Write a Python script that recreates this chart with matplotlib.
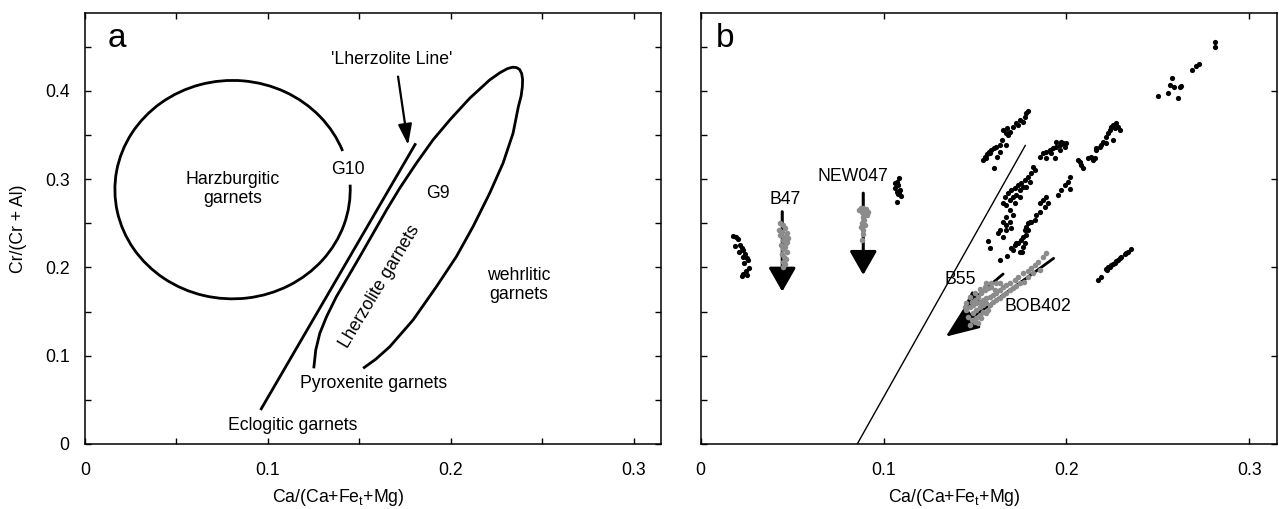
import matplotlib
matplotlib.use("Agg")
import matplotlib.pyplot as plt
from matplotlib.patches import Arc

plt.rcParams['font.family'] = ['Liberation Sans', 'DejaVu Sans']
plt.rcParams['mathtext.fontset'] = 'custom'
plt.rcParams['mathtext.rm'] = 'Liberation Sans'
plt.rcParams['mathtext.it'] = 'Liberation Sans'

# ---------------- axes / ticks ----------------
XLIM = (0, 0.315)
YLIM = (0, 0.488)
x_major = [0, 0.1, 0.2, 0.3]
x_major_labels = ["0", "0.1", "0.2", "0.3"]
x_minor = [0.05, 0.15, 0.25]
y_major = [0, 0.1, 0.2, 0.3, 0.4]
y_major_labels = ["0", "0.1", "0.2", "0.3", "0.4"]
y_minor = [0.05, 0.15, 0.25, 0.35, 0.45]
xlabel_text = "Ca/(Ca+Fe$_\\mathregular{t}$+Mg)"
ylabel_text = "Cr/(Cr + Al)"

# ---------------- panel a data ----------------
harz_center = (0.0807, 0.288)
harz_size = (0.1287, 0.2473)
harz_gap_deg = (5, 36)   # geometric angles of the gap ends (lower, upper)

lherz_line_x = [0.0960, 0.1809]
lherz_line_y = [0.0385, 0.3405]
lherz_arrow_start = (0.1712, 0.4160)
lherz_arrow_tip = (0.1767, 0.3386)

g9_x = [0.1251, 0.1262, 0.1284, 0.1321, 0.1375, 0.1439, 0.1503, 0.1576, 0.1649,
        0.1721, 0.1812, 0.1903, 0.1995, 0.2104, 0.2213, 0.2270, 0.2310, 0.2338,
        0.2360, 0.2377, 0.2388, 0.2393, 0.2392, 0.2385, 0.2370, 0.2341, 0.2286,
        0.2213, 0.2122, 0.2031, 0.1922, 0.1794, 0.1667, 0.1590, 0.1521]
g9_y = [0.0857, 0.1065, 0.1253, 0.1442, 0.1669, 0.1895, 0.2122, 0.2386, 0.2650,
        0.2896, 0.3179, 0.3443, 0.3669, 0.3915, 0.4122, 0.4205, 0.4250, 0.4266,
        0.4262, 0.4240, 0.4195, 0.4130, 0.4047, 0.3940, 0.3820, 0.3519, 0.3179,
        0.2839, 0.2461, 0.2122, 0.1782, 0.1404, 0.1102, 0.0960, 0.0857]

a_texts = [
    ("Harzburgitic\ngarnets", 0.081, 0.289, 0),
    ("G10", 0.1439, 0.3111, 0),
    ("G9", 0.1931, 0.2831, 0),
    ("Lherzolite garnets", 0.1612, 0.1782, 59),
    ("wehrlitic\ngarnets", 0.237, 0.180, 0),
    ("Pyroxenite garnets", 0.1579, 0.0687, 0),
    ("Eclogitic garnets", 0.1138, 0.0215, 0),
    ("'Lherzolite Line'", 0.1676, 0.4352, 0),
]

# ---------------- panel b data ----------------
b_line_x = [0.0856, 0.1775]
b_line_y = [0.0, 0.338]

left_x = [0.0178, 0.0193, 0.0206, 0.0187, 0.0215, 0.0224, 0.0233, 0.0211, 0.0242,
          0.0229, 0.0251, 0.0260, 0.0237, 0.0266, 0.0248, 0.0233, 0.0224, 0.0251]
left_y = [0.2356, 0.2341, 0.2318, 0.2242, 0.2254, 0.2216, 0.2197, 0.2178, 0.2152,
          0.2121, 0.2103, 0.2084, 0.2053, 0.1990, 0.1963, 0.1925, 0.1903, 0.1914]

mid_x = [0.1085, 0.1071, 0.1080, 0.1062, 0.1089, 0.1071, 0.1080, 0.1093, 0.1074,
         0.1062, 0.1085]
mid_y = [0.3009, 0.2971, 0.2933, 0.2896, 0.2877, 0.2857, 0.2831, 0.2809, 0.2744,
         0.2952, 0.2846]

strandA_x = [0.1544, 0.1554, 0.1566, 0.1577, 0.1559, 0.1590, 0.1603, 0.1617, 0.1636,
             0.1645, 0.1654, 0.1668, 0.1681, 0.1690, 0.1676, 0.1708, 0.1723, 0.1736,
             0.1745, 0.1760, 0.1772, 0.1781, 0.1790, 0.1604, 0.1621, 0.1672, 0.1636,
             0.1581]
strandA_y = [0.3216, 0.3254, 0.3284, 0.3310, 0.3235, 0.3330, 0.3349, 0.3367, 0.3386,
             0.3443, 0.3556, 0.3519, 0.3499, 0.3537, 0.3575, 0.3594, 0.3632, 0.3613,
             0.3669, 0.3650, 0.3700, 0.3745, 0.3775, 0.3122, 0.3254, 0.3386, 0.3310,
             0.3292]

strandB_x = [0.1854, 0.1872, 0.1890, 0.1908, 0.1927, 0.1945, 0.1963, 0.1981, 0.1945,
             0.1972, 0.1996, 0.1918, 0.1890, 0.1936, 0.1963, 0.1990,
             0.1817, 0.1827, 0.1808, 0.1790, 0.1772, 0.1754, 0.1735, 0.1717, 0.1699,
             0.1681, 0.1663, 0.1654, 0.1672, 0.1690, 0.1708, 0.1726, 0.1745, 0.1763,
             0.1781, 0.1799, 0.1745, 0.1717, 0.1690, 0.1708, 0.1672, 0.1654, 0.1635,
             0.1626, 0.1654, 0.1672, 0.1690, 0.1699, 0.1668,
             0.1572, 0.1584, 0.1635, 0.1675, 0.1699, 0.1759]
strandB_y = [0.3254, 0.3292, 0.3311, 0.3330, 0.3349, 0.3368, 0.3387, 0.3406, 0.3424,
             0.3424, 0.3413, 0.3292, 0.3236, 0.3236, 0.3330, 0.3368,
             0.3141, 0.3103, 0.3066, 0.3028, 0.2990, 0.2953, 0.2934, 0.2896, 0.2877,
             0.2839, 0.2802, 0.2726, 0.2707, 0.2764, 0.2802, 0.2820, 0.2877, 0.2915,
             0.2915, 0.2971, 0.2802, 0.2726, 0.2650, 0.2594, 0.2575, 0.2518, 0.2424,
             0.2386, 0.2349, 0.2481, 0.2518, 0.2443, 0.2424,
             0.2303, 0.2216, 0.2084, 0.2130, 0.2216, 0.2179]

strandC_x = [0.1854, 0.1872, 0.1890, 0.1899, 0.1881, 0.1854, 0.1836, 0.1827, 0.1808,
             0.1790, 0.1781, 0.1772, 0.1763, 0.1754, 0.1735, 0.1717, 0.1708, 0.1745,
             0.1772, 0.1781, 0.1790, 0.1799, 0.1763, 0.1726]
strandC_y = [0.2726, 0.2764, 0.2802, 0.2726, 0.2688, 0.2632, 0.2594, 0.2537, 0.2518,
             0.2499, 0.2462, 0.2424, 0.2349, 0.2311, 0.2273, 0.2254, 0.2198, 0.2179,
             0.2273, 0.2367, 0.2424, 0.2518, 0.2235, 0.2273]

strandD_x = [0.2018, 0.2009, 0.1990, 0.1972, 0.1954, 0.2018, 0.2072, 0.2081, 0.2091,
             0.2063, 0.2136, 0.2145, 0.2118, 0.2163, 0.2182, 0.2200, 0.2218, 0.2227,
             0.2236, 0.2245, 0.2254, 0.2263, 0.2273, 0.2282, 0.2291, 0.2254, 0.2218,
             0.2191, 0.2163, 0.2154]
strandD_y = [0.3028, 0.2971, 0.2934, 0.2877, 0.2820, 0.2885, 0.3198, 0.3160, 0.3122,
             0.3217, 0.3254, 0.3217, 0.3236, 0.3349, 0.3368, 0.3424, 0.3481, 0.3519,
             0.3556, 0.3594, 0.3613, 0.3575, 0.3632, 0.3594, 0.3556, 0.3443, 0.3406,
             0.3387, 0.3330, 0.3236]

lowright_x = [0.2172, 0.2191, 0.2218, 0.2227, 0.2245, 0.2263, 0.2282, 0.2300, 0.2318,
              0.2336, 0.2355, 0.2236, 0.2273, 0.2327, 0.2254, 0.2291, 0.2222]
lowright_y = [0.1858, 0.1888, 0.1979, 0.2009, 0.2028, 0.2054, 0.2084, 0.2122, 0.2152,
              0.2179, 0.2205, 0.2001, 0.2077, 0.2167, 0.2039, 0.2103, 0.1971]

upright_x = [0.2500, 0.2555, 0.2579, 0.2564, 0.2591, 0.2610, 0.2619, 0.2628, 0.2688,
             0.2710, 0.2724, 0.2810, 0.2814]
upright_y = [0.3945, 0.3979, 0.4142, 0.4066, 0.4047, 0.3915, 0.4040, 0.4055, 0.4236,
             0.4285, 0.4300, 0.4549, 0.4493]

b47_x = [0.0433, 0.0451, 0.0461, 0.0443, 0.0470, 0.0433, 0.0455, 0.0479, 0.0448,
         0.0466, 0.0437, 0.0461, 0.0451, 0.0470, 0.0443, 0.0457, 0.0464, 0.0448,
         0.0459, 0.0451, 0.0473, 0.0430]
b47_y = [0.2499, 0.2480, 0.2443, 0.2405, 0.2393, 0.2367, 0.2348, 0.2329, 0.2310,
         0.2280, 0.2254, 0.2235, 0.2205, 0.2178, 0.2152, 0.2121, 0.2092, 0.2065,
         0.2039, 0.2008, 0.2291, 0.2424]

new047_x = [0.0874, 0.0889, 0.0903, 0.0916, 0.0880, 0.0898, 0.0910, 0.0885, 0.0892,
            0.0880, 0.0898, 0.0874, 0.0889, 0.0885, 0.0880, 0.0907, 0.0867]
new047_y = [0.2669, 0.2676, 0.2658, 0.2631, 0.2631, 0.2613, 0.2593, 0.2574, 0.2537,
            0.2499, 0.2480, 0.2461, 0.2424, 0.2378, 0.2310, 0.2620, 0.2650]

bob_x = [0.1890, 0.1872, 0.1845, 0.1827, 0.1808, 0.1790, 0.1763, 0.1735, 0.1717,
         0.1690, 0.1672, 0.1654, 0.1635, 0.1617, 0.1599, 0.1581, 0.1562, 0.1544,
         0.1526, 0.1508, 0.1490, 0.1471, 0.1453, 0.1462, 0.1481, 0.1499, 0.1517,
         0.1471, 0.1490, 0.1508, 0.1526, 0.1544, 0.1562, 0.1535, 0.1553, 0.1572,
         0.1590, 0.1608, 0.1517, 0.1499, 0.1481, 0.1526, 0.1544, 0.1572, 0.1453,
         0.1444, 0.1562, 0.1590, 0.1617, 0.1635, 0.1508, 0.1535, 0.1559, 0.1581,
         0.1599, 0.1617, 0.1635, 0.1654, 0.1672, 0.1690, 0.1708, 0.1726, 0.1745,
         0.1766, 0.1790, 0.1817, 0.1854, 0.1471, 0.1499, 0.1526, 0.1553]
bob_y = [0.2159, 0.2121, 0.2065, 0.2027, 0.1989, 0.1963, 0.1932, 0.1887, 0.1857,
         0.1827, 0.1800, 0.1774, 0.1744, 0.1706, 0.1687, 0.1668, 0.1649, 0.1631,
         0.1612, 0.1593, 0.1574, 0.1555, 0.1517, 0.1442, 0.1404, 0.1385, 0.1366,
         0.1347, 0.1480, 0.1517, 0.1555, 0.1574, 0.1593, 0.1706, 0.1744, 0.1763,
         0.1774, 0.1744, 0.1668, 0.1631, 0.1612, 0.1461, 0.1498, 0.1517, 0.1593,
         0.1555, 0.1819, 0.1819, 0.1819, 0.1819, 0.1423, 0.1423, 0.1480, 0.1574,
         0.1612, 0.1631, 0.1649, 0.1687, 0.1706, 0.1744, 0.1763, 0.1789, 0.1819,
         0.1838, 0.1895, 0.1932, 0.1970, 0.1668, 0.1706, 0.1751, 0.1774]

# arrows: (start, tip)
arrow_b47 = ((0.0446, 0.263), (0.0446, 0.1725))
arrow_new047 = ((0.0889, 0.284), (0.0889, 0.1914))
arrow_b55 = ((0.1654, 0.1925), (0.1439, 0.1547))
arrow_bob402 = ((0.1930, 0.2102), (0.1340, 0.1215))

b_texts = [
    ("B47", 0.0461, 0.2771),
    ("NEW047", 0.0834, 0.3027),
    ("B55", 0.1419, 0.1862),
    ("BOB402", 0.1843, 0.1557),
]

FS = 12.7
GRAY = '#8c8c8c'

fig = plt.figure(figsize=(12.79, 5.09), dpi=100)
axa = fig.add_axes([85 / 1279, 65 / 509, 576 / 1279, 431 / 509])
axb = fig.add_axes([700.7 / 1279, 65 / 509, 576 / 1279, 431 / 509])

for ax in (axa, axb):
    ax.set_xlim(*XLIM)
    ax.set_ylim(*YLIM)
    for s in ax.spines.values():
        s.set_linewidth(1.1)
    ax.tick_params(which='both', direction='in', top=True, right=True,
                   width=1.0, labelsize=FS)
    ax.tick_params(which='major', length=4.5)
    ax.tick_params(which='minor', length=4.5)
    ax.tick_params(axis='x', pad=13)
    ax.tick_params(axis='y', pad=11)
    ax.set_xticks(x_major)
    ax.set_xticklabels(x_major_labels)
    ax.set_yticks(y_major)
    ax.set_xlabel(xlabel_text, fontsize=FS)
    ax.xaxis.set_label_coords(0.44, -0.10)

axa.set_xticks(x_minor, minor=True)
axa.set_yticks(y_minor, minor=True)
axa.set_yticklabels(y_major_labels)
axa.set_ylabel(ylabel_text, fontsize=FS)
axa.yaxis.set_label_coords(-0.10, 0.5)

axb.set_yticks(y_minor, minor=True)
axb.set_yticklabels([])
axb.tick_params(axis='y', which='minor', right=False)

# ---------------- panel a ----------------
LW = 2.0
arc = Arc(harz_center, harz_size[0], harz_size[1], theta1=harz_gap_deg[1],
          theta2=360 + harz_gap_deg[0], lw=LW, color='black')
axa.add_patch(arc)
axa.plot(lherz_line_x, lherz_line_y, color='black', lw=LW, solid_capstyle='butt')
axa.plot(g9_x, g9_y, color='black', lw=LW, solid_joinstyle='round',
         solid_capstyle='butt')
axa.annotate('', xy=lherz_arrow_tip, xytext=lherz_arrow_start,
             arrowprops=dict(arrowstyle='-|>,head_length=0.9,head_width=0.3',
                             lw=1.6, color='black', mutation_scale=14,
                             shrinkA=0, shrinkB=0))
for txt, x, y, rot in a_texts:
    axa.text(x, y, txt, ha='center', va='center', rotation=rot,
             fontsize=FS, linespacing=1.15, rotation_mode='anchor')
axa.text(0.0173, 0.450, 'a', fontsize=24, ha='center', va='baseline')

# ---------------- panel b ----------------
axb.plot(b_line_x, b_line_y, color='black', lw=1.0)

for (st, tp), hl, hw, lw, ms in [(arrow_b47, 1.05, 0.6, 2.2, 14),
                                 (arrow_new047, 1.05, 0.6, 2.2, 14),
                                 (arrow_b55, 0.9, 0.4, 2.0, 10),
                                 (arrow_bob402, 1.3, 0.52, 2.0, 16)]:
    axb.annotate('', xy=tp, xytext=st,
                 arrowprops=dict(arrowstyle='-|>,head_length=%g,head_width=%g' % (hl, hw),
                                 lw=lw, color='black', mutation_scale=ms,
                                 shrinkA=0, shrinkB=0), zorder=2)

for xs, ys in [(left_x, left_y), (mid_x, mid_y), (strandA_x, strandA_y),
               (strandB_x, strandB_y), (strandC_x, strandC_y),
               (strandD_x, strandD_y), (lowright_x, lowright_y),
               (upright_x, upright_y)]:
    axb.scatter(xs, ys, s=14, color='black', linewidths=0, zorder=3)

for xs, ys in [(b47_x, b47_y), (new047_x, new047_y), (bob_x, bob_y)]:
    axb.scatter(xs, ys, s=16, color=GRAY, linewidths=0, zorder=3)

for txt, x, y in b_texts:
    axb.text(x, y, txt, ha='center', va='center', fontsize=FS, zorder=4)
axb.text(0.0133, 0.450, 'b', fontsize=24, ha='center', va='baseline')

fig.savefig('out.png', dpi=100)
